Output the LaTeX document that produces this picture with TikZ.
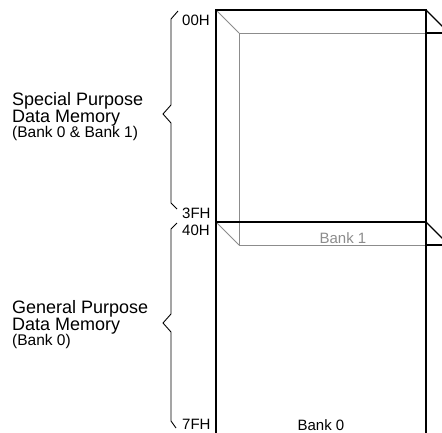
\documentclass[tikz,border=0pt]{standalone}
\usepackage{fontspec}
\setmainfont{Liberation Sans}
\begin{document}
\begin{tikzpicture}[x=1pt,y=-1pt,
  frontline/.style={black,line width=1.1pt},
  backline/.style={black!45,line width=1pt},
  brace/.style={black,line width=0.9pt},
  addr/.style={font=\fontsize{15}{15}\selectfont,inner sep=0pt,anchor=base west},
  banklbl/.style={font=\fontsize{15}{15}\selectfont,inner sep=0pt,anchor=base},
  title/.style={font={\fontsize{18}{16.5}\selectfont\lineskiplimit=-30pt},align=left,inner sep=0pt,anchor=base west},
  sub/.style={font=\fontsize{15.5}{15.5}\selectfont,inner sep=0pt,anchor=base west}]
\useasboundingbox (0,0) rectangle (442,432);
\clip (0,0) rectangle (442,432);
% front plane (Bank 0)
\coordinate (f1) at (216,10);
\coordinate (f2) at (426,10);
\coordinate (f3) at (216,222);
\coordinate (f4) at (426,222);
\coordinate (fb1) at (216,445);
\coordinate (fb2) at (426,445);
% back plane (Bank 1)
\coordinate (b1) at (239,33);
\coordinate (b2) at (449,33);
\coordinate (b3) at (239,245);
\coordinate (b4) at (449,245);
\coordinate (b1r) at (f2 |- b1);
\coordinate (b3r) at (f2 |- b3);
\draw[backline] (b1r) -- (b1) -- (b3) -- (b3r);
\draw[backline] (f1) -- (b1);
\draw[backline] (f3) -- (b3);
\draw[frontline] (f2) -- (b2);
\draw[frontline] (f4) -- (b4);
\draw[frontline] (b1r) -- (b2);
\draw[frontline] (b3r) -- (b4);
\draw[frontline] (fb1) -- (f1) -- (f2) -- (fb2);
\draw[frontline] (f3) -- (f4);
\node[banklbl,text=black!45] (bank1) at (343,243) {Bank 1};
\node[banklbl] (bank0) at (321,430) {Bank 0};
% addresses
\node[addr] (a00) at (182,25.5) {00H};
\node[addr] (a3f) at (182,218) {3FH};
\node[addr] (a40) at (182,235) {40H};
\node[addr] (a7f) at (182,429.5) {7FH};
% braces
\draw[brace] (178,11) -- (171,19) -- (171,105) -- (163,114) -- (171,123) -- (171,203) -- (177,209);
\draw[brace] (177,223) -- (171,229) -- (171,314) -- (163,323) -- (171,332) -- (171,421) -- (176,428);
% titles (base anchor = baseline of the last line)
\node[title] (spt) at (12,122) {Special Purpose\\Data Memory};
\node[sub] (sps) at (12,137.5) {(Bank 0 \& Bank 1)};
\node[title] (gpt) at (12,330) {General Purpose\\Data Memory};
\node[sub] (gps) at (12,345.5) {(Bank 0)};
\end{tikzpicture}
\end{document}
